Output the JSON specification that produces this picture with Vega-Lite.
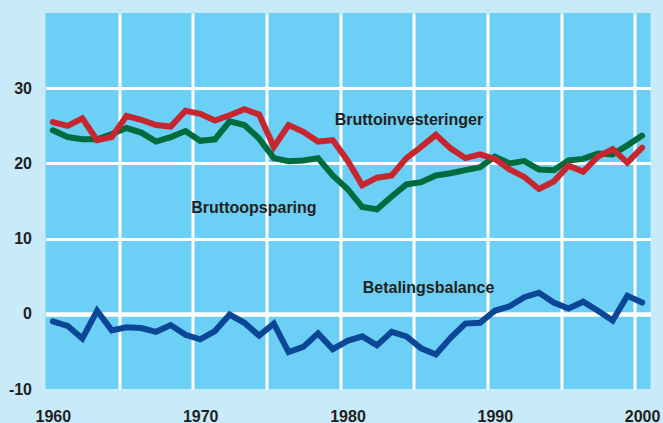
{
  "$schema": "https://vega.github.io/schema/vega-lite/v6.json",
  "width": 605,
  "height": 376,
  "autosize": "none",
  "padding": {"left": 45.5, "top": 13, "right": 12, "bottom": 34},
  "background": "#c8eaf9",
  "config": {
    "view": {"fill": "#6ccff5", "stroke": null},
    "font": "Liberation Sans",
    "axis": {
      "title": null,
      "grid": true,
      "gridColor": "#ffffff",
      "ticks": false,
      "tickSize": 0,
      "domain": false,
      "labelFont": "Liberation Sans",
      "labelFontSize": 16,
      "labelFontWeight": "bold",
      "labelColor": "#231f20",
      "labelFlush": false,
      "labelBound": false,
      "labelOverlap": false
    }
  },
  "datasets": {
    "series": [
      {"year": 1960, "inv": 25.5, "ops": 24.4, "bal": -1.0},
      {"year": 1961, "inv": 25.0, "ops": 23.5, "bal": -1.6},
      {"year": 1962, "inv": 26.0, "ops": 23.2, "bal": -3.3},
      {"year": 1963, "inv": 23.1, "ops": 23.2, "bal": 0.4},
      {"year": 1964, "inv": 23.5, "ops": 23.9, "bal": -2.2},
      {"year": 1965, "inv": 26.3, "ops": 24.7, "bal": -1.8},
      {"year": 1966, "inv": 25.8, "ops": 24.1, "bal": -1.9},
      {"year": 1967, "inv": 25.1, "ops": 22.9, "bal": -2.4},
      {"year": 1968, "inv": 24.9, "ops": 23.5, "bal": -1.5},
      {"year": 1969, "inv": 27.0, "ops": 24.3, "bal": -2.8},
      {"year": 1970, "inv": 26.6, "ops": 23.0, "bal": -3.4},
      {"year": 1971, "inv": 25.7, "ops": 23.2, "bal": -2.3},
      {"year": 1972, "inv": 26.4, "ops": 25.6, "bal": -0.1},
      {"year": 1973, "inv": 27.2, "ops": 25.1, "bal": -1.2},
      {"year": 1974, "inv": 26.5, "ops": 23.3, "bal": -2.9},
      {"year": 1975, "inv": 22.2, "ops": 20.7, "bal": -1.3},
      {"year": 1976, "inv": 25.1, "ops": 20.3, "bal": -5.1},
      {"year": 1977, "inv": 24.2, "ops": 20.4, "bal": -4.4},
      {"year": 1978, "inv": 22.9, "ops": 20.7, "bal": -2.6},
      {"year": 1979, "inv": 23.1, "ops": 18.4, "bal": -4.7},
      {"year": 1980, "inv": 20.4, "ops": 16.6, "bal": -3.6},
      {"year": 1981, "inv": 17.1, "ops": 14.2, "bal": -3.0},
      {"year": 1982, "inv": 18.1, "ops": 13.9, "bal": -4.2},
      {"year": 1983, "inv": 18.4, "ops": 15.6, "bal": -2.4},
      {"year": 1984, "inv": 20.7, "ops": 17.2, "bal": -3.0},
      {"year": 1985, "inv": 22.2, "ops": 17.5, "bal": -4.6},
      {"year": 1986, "inv": 23.8, "ops": 18.4, "bal": -5.4},
      {"year": 1987, "inv": 22.0, "ops": 18.7, "bal": -3.2},
      {"year": 1988, "inv": 20.7, "ops": 19.1, "bal": -1.3},
      {"year": 1989, "inv": 21.2, "ops": 19.5, "bal": -1.2},
      {"year": 1990, "inv": 20.6, "ops": 20.9, "bal": 0.4},
      {"year": 1991, "inv": 19.2, "ops": 20.0, "bal": 1.0},
      {"year": 1992, "inv": 18.2, "ops": 20.3, "bal": 2.2},
      {"year": 1993, "inv": 16.6, "ops": 19.2, "bal": 2.8},
      {"year": 1994, "inv": 17.6, "ops": 19.1, "bal": 1.5},
      {"year": 1995, "inv": 19.7, "ops": 20.4, "bal": 0.7},
      {"year": 1996, "inv": 18.9, "ops": 20.6, "bal": 1.6},
      {"year": 1997, "inv": 20.9, "ops": 21.3, "bal": 0.4},
      {"year": 1998, "inv": 21.9, "ops": 21.2, "bal": -0.9},
      {"year": 1999, "inv": 20.1, "ops": 22.4, "bal": 2.4},
      {"year": 2000, "inv": 22.1, "ops": 23.7, "bal": 1.5}
    ],
    "labels": [
      {"label": "Bruttoinvesteringer", "lx": 1984.17, "ly": 25.1},
      {"label": "Bruttoopsparing", "lx": 1973.65, "ly": 13.43},
      {"label": "Betalingsbalance", "lx": 1985.5, "ly": 2.71}
    ]
  },
  "layer": [
    {
      "data": {"name": "series"},
      "mark": {"type": "line", "color": "#0b4697", "strokeWidth": 6, "strokeCap": "round"},
      "encoding": {
        "x": {
          "field": "year", "type": "quantitative",
          "scale": {"domain": [1959.5, 2000.57], "nice": false, "zero": false},
          "axis": {
            "values": [1960, 1965, 1970, 1975, 1980, 1985, 1990, 1995, 2000],
            "gridWidth": 3,
            "gridOpacity": {"condition": {"test": "datum.value == 1960", "value": 0}, "value": 1},
            "tickOffset": -7.37,
            "labelOffset": 7.37,
            "labelPadding": 19,
            "format": "d",
            "labelExpr": "datum.value % 10 == 0 ? datum.label : ''"
          }
        },
        "y": {
          "field": "bal", "type": "quantitative",
          "scale": {"domain": [-10, 40], "nice": false, "zero": false},
          "axis": {
            "values": [-10, 0, 10, 20, 30],
            "gridWidth": {"condition": {"test": "datum.value == 0", "value": 4.5}, "value": 3},
            "gridOpacity": {"condition": {"test": "datum.value == -10", "value": 0}, "value": 1},
            "labelPadding": 14,
            "labelExpr": "replace(datum.label, '\u2212', '-')"
          }
        }
      }
    },
    {
      "data": {"name": "series"},
      "mark": {"type": "line", "color": "#006b3c", "strokeWidth": 6, "strokeCap": "round"},
      "encoding": {
        "x": {"field": "year", "type": "quantitative"},
        "y": {"field": "ops", "type": "quantitative"}
      }
    },
    {
      "data": {"name": "series"},
      "mark": {"type": "line", "color": "#c8262f", "strokeWidth": 6, "strokeCap": "round"},
      "encoding": {
        "x": {"field": "year", "type": "quantitative"},
        "y": {"field": "inv", "type": "quantitative"}
      }
    },
    {
      "data": {"name": "labels"},
      "mark": {"type": "text", "font": "Liberation Sans", "fontSize": 16, "fontWeight": "bold", "color": "#231f20", "align": "center", "baseline": "alphabetic"},
      "encoding": {
        "x": {"field": "lx", "type": "quantitative"},
        "y": {"field": "ly", "type": "quantitative"},
        "text": {"field": "label"}
      }
    }
  ]
}
